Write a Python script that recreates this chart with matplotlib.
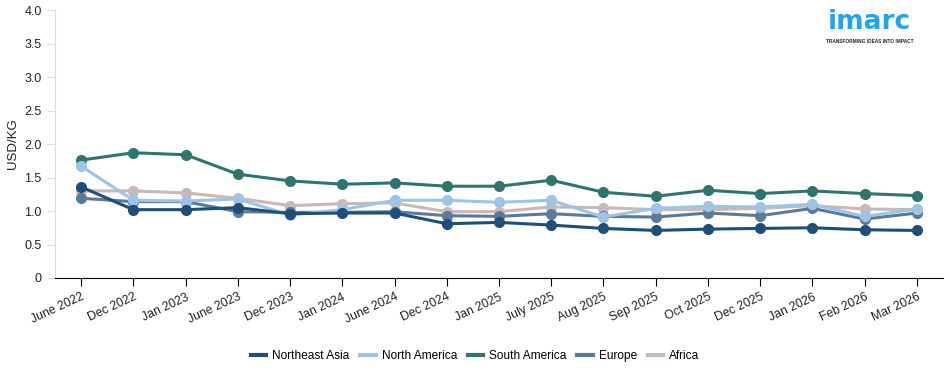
import matplotlib
matplotlib.use('Agg')
import matplotlib.pyplot as plt

plt.rcParams['font.family'] = ['Liberation Sans', 'DejaVu Sans']

months = ['June 2022', 'Dec 2022', 'Jan 2023', 'June 2023', 'Dec 2023', 'Jan 2024',
          'June 2024', 'Dec 2024', 'Jan 2025', 'July 2025', 'Aug 2025', 'Sep 2025',
          'Oct 2025', 'Dec 2025', 'Jan 2026', 'Feb 2026', 'Mar 2026']

northeast_asia = [1.36, 1.02, 1.02, 1.05, 0.96, 0.97, 0.97, 0.81, 0.83, 0.79, 0.74, 0.71,
                  0.73, 0.74, 0.75, 0.72, 0.71]
north_america = [1.67, 1.16, 1.15, 1.18, 0.94, 1.02, 1.16, 1.16, 1.13, 1.16, 0.91, 1.04,
                 1.07, 1.06, 1.10, 0.92, 1.03]
south_america = [1.76, 1.87, 1.84, 1.55, 1.45, 1.40, 1.42, 1.37, 1.37, 1.46, 1.28, 1.22,
                 1.31, 1.26, 1.30, 1.26, 1.23]
europe = [1.19, 1.14, 1.14, 0.99, 0.98, 0.98, 0.99, 0.93, 0.92, 0.96, 0.92, 0.91,
          0.97, 0.93, 1.04, 0.88, 0.97]
africa = [1.30, 1.30, 1.27, 1.19, 1.08, 1.11, 1.12, 0.99, 0.99, 1.06, 1.05, 1.02,
          1.02, 1.04, 1.08, 1.03, 1.02]

series = [
    ('Northeast Asia', northeast_asia, '#1f4e79'),
    ('North America', north_america, '#9dc3e6'),
    ('South America', south_america, '#2e7570'),
    ('Europe', europe, '#5b7a99'),
    ('Africa', africa, '#c9b8b8'),
]

fig = plt.figure(figsize=(9.5, 3.73), dpi=100)
ax = fig.add_axes([0.0579, 0.2547, 0.9347, 0.7183])

x = list(range(len(months)))
# draw in reverse so northeast asia sits on top
for name, vals, col in reversed(series):
    ax.plot(x, vals, color=col, lw=2.2, marker='o', ms=7, label=name)

ax.set_xlim(-0.5, len(months) - 0.5)
ax.set_ylim(0, 4)
ax.set_yticks([0, 0.5, 1.0, 1.5, 2.0, 2.5, 3.0, 3.5, 4.0])
ax.set_yticklabels(['0', '0.5', '1.0', '1.5', '2.0', '2.5', '3.0', '3.5', '4.0'])
ax.set_xticks(x)
ax.set_xticklabels(months, rotation=25, ha='right', rotation_mode='anchor')

for s in ['top', 'right']:
    ax.spines[s].set_visible(False)
ax.spines['left'].set_color('#dddddd')
ax.spines['bottom'].set_color('#000000')
ax.tick_params(axis='y', colors='#dddddd', labelcolor='#222222', labelsize=9, length=6)
ax.tick_params(axis='x', colors='#000000', labelcolor='#222222', labelsize=8.8, length=6)
ax.set_ylabel('USD/KG', fontsize=9.5, color='#222222', labelpad=4)

h, l = ax.get_legend_handles_labels()
h = h[::-1]
l = l[::-1]
leg = fig.legend(h, l, loc='center', bbox_to_anchor=(0.5, 0.045), ncol=5, frameon=False,
                 fontsize=8.6, handlelength=1.3, handletextpad=0.5, columnspacing=0.9)
for line in leg.get_lines():
    line.set_marker('')
    line.set_linewidth(3)

# logo
fig.text(0.915, 0.94, 'imarc', color='#1ea5f0', fontsize=19, fontweight='bold',
         family='DejaVu Sans', ha='center', va='center')
fig.text(0.915, 0.89, 'TRANSFORMING IDEAS INTO IMPACT', color='#222222', fontsize=3.4,
         fontweight='bold', ha='center', va='center')

fig.savefig('out.png', dpi=100)
